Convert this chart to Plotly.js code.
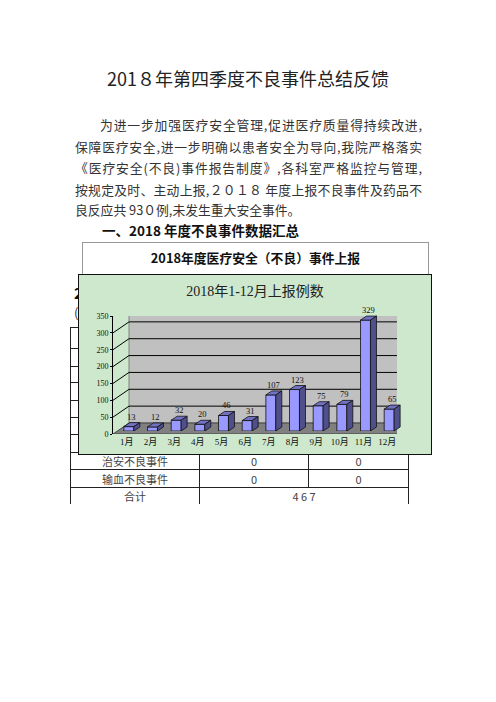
<!DOCTYPE html>
<html><head><meta charset="utf-8">
<script src="https://cdn.plot.ly/plotly-3.0.1.min.js"></script>
<style>
body{margin:0;width:496px;height:702px;background:#fff;position:relative;overflow:hidden;font-family:"Noto Sans CJK SC",sans-serif;color:#333;}
.ab{position:absolute;white-space:nowrap;}
.title{left:0;width:496px;top:66px;text-align:center;font-size:18px;line-height:24px;color:#222;}
.ln{left:75px;width:347px;font-size:12.8px;line-height:20px;text-align:justify;text-align-last:justify;}
.h1{left:102px;top:221px;font-size:13.5px;line-height:18px;font-weight:bold;color:#111;}
.box{left:82px;top:242px;width:345px;height:80px;border:1px solid #999;}
.boxt{left:82px;top:249px;width:347px;text-align:center;font-size:12.8px;line-height:18px;font-weight:bold;color:#111;}
.clip{overflow:hidden;width:4px;}
#tbl{position:absolute;left:70px;top:327px;border-collapse:collapse;table-layout:fixed;width:338px;font-size:11px;color:#444;}
#tbl td{border:1px solid #222;padding:0;text-align:center;line-height:12px;}
#tbl tr.last td{border-bottom:none;}
#chartbox{position:absolute;left:78px;top:274px;width:354px;height:181px;border:1px solid #111;box-sizing:border-box;z-index:5;background:#cde8cd;}
#chart{width:352px;height:179px;}
</style></head>
<body>
<div class="ab title">201８年第四季度不良事件总结反馈</div>
<div class="ab ln" style="top:115px;left:100px;width:322px;">为进一步加强医疗安全管理,促进医疗质量得持续改进,</div>
<div class="ab ln" style="top:137px;">保障医疗安全,进一步明确以患者安全为导向,我院严格落实</div>
<div class="ab ln" style="top:158px;">《医疗安全(不良)事件报告制度》,各科室严格监控与管理,</div>
<div class="ab ln" style="top:180px;">按规定及时、主动上报,２０１８ 年度上报不良事件及药品不</div>
<div class="ab ln" style="top:200px;text-align:left;text-align-last:left;">良反应共 93０例,未发生重大安全事件。</div>
<div class="ab h1">一、2018 年度不良事件数据汇总</div>
<div class="ab box"></div>
<div class="ab boxt">2018年度医疗安全（不良）事件上报</div>
<div class="ab clip" style="left:74px;top:283px;font-size:15px;line-height:20px;font-weight:bold;color:#111;">2</div>
<div class="ab clip" style="left:74px;top:304px;font-size:13px;line-height:18px;color:#333;">(</div>
<table id="tbl">
<col style="width:129px"><col style="width:109px"><col style="width:100px">
<tr style="height:21px"><td></td><td></td><td></td></tr>
<tr style="height:18px"><td></td><td></td><td></td></tr>
<tr style="height:16px"><td></td><td></td><td></td></tr>
<tr style="height:18px"><td></td><td></td><td></td></tr>
<tr style="height:17px"><td></td><td></td><td></td></tr>
<tr style="height:17px"><td></td><td></td><td></td></tr>
<tr style="height:18px"><td></td><td></td><td></td></tr>
<tr style="height:17px"><td>治安不良事件</td><td>0</td><td>0</td></tr>
<tr style="height:18px"><td>输血不良事件</td><td>0</td><td>0</td></tr>
<tr class="last" style="height:16px"><td>合计</td><td colspan="2">4 6 7</td></tr>
</table>
<div id="chartbox"><div id="chart"></div></div>
<script>
const months = ['1月','2月','3月','4月','5月','6月','7月','8月','9月','10月','11月','12月'];
const counts = [13, 12, 32, 20, 46, 31, 107, 123, 75, 79, 329, 65];
const yTicks = [0, 50, 100, 150, 200, 250, 300, 350];
const chartTitle = '2018年1-12月上报例数';

const W = 352, H = 179;
const FL = 34, FT = 41, PW = 284, PH = 118;   // front plane
const BX = 4, BY = 3;                          // bar plane shift
const DX = 16, DY = 11;                        // wall depth
const bdx = 6, bdy = 4;                        // bar depth
const bargap = 0.58;
const yMax = 350;
const pxPerUnit = PH / yMax;
const hw = PW / months.length * (1 - bargap) / 2;
const fontF = '"Liberation Serif","Noto Sans CJK SC",serif';

const shapes = [];
// back wall
shapes.push({type:'path', layer:'below', xref:'x', yref:'y', xsizemode:'pixel', ysizemode:'pixel',
  xanchor:-0.5, yanchor:0,
  path:`M${DX},${DY} L${DX+PW},${DY} L${DX+PW},${DY+PH} L${DX},${DY+PH} Z`,
  fillcolor:'#c0c0c0', line:{color:'#808080', width:1}});
// floor
shapes.push({type:'path', layer:'below', xref:'x', yref:'y', xsizemode:'pixel', ysizemode:'pixel',
  xanchor:-0.5, yanchor:0,
  path:`M0,0 L${PW},0 L${PW+DX},${DY} L${DX},${DY} Z`,
  fillcolor:'#808080', line:{color:'#333', width:0.8}});
yTicks.forEach(t => {
  if (t > 0 && t < yMax) {
    shapes.push({type:'line', layer:'below', xref:'x', yref:'y', xsizemode:'pixel', ysizemode:'pixel',
      xanchor:-0.5, yanchor:t, x0:DX, x1:DX+PW, y0:DY, y1:DY, line:{color:'#000', width:1}});
  }
  if (t > 0) {
    shapes.push({type:'line', layer:'below', xref:'x', yref:'y', xsizemode:'pixel', ysizemode:'pixel',
      xanchor:-0.5, yanchor:t, x0:0, x1:DX, y0:0, y1:DY, line:{color:'#000', width:1}});
  }
});
// bar 3D faces
counts.forEach((v, i) => {
  const h = v * pxPerUnit;
  shapes.push({type:'path', layer:'above', xref:'x2', yref:'y2', xsizemode:'pixel', ysizemode:'pixel',
    xanchor:i, yanchor:v,
    path:`M${-hw},0 L${hw},0 L${hw+bdx},${bdy} L${-hw+bdx},${bdy} Z`,
    fillcolor:'#7272c4', line:{color:'#111', width:0.8}});
  shapes.push({type:'path', layer:'above', xref:'x2', yref:'y2', xsizemode:'pixel', ysizemode:'pixel',
    xanchor:i, yanchor:0,
    path:`M${hw},0 L${hw+bdx},${bdy} L${hw+bdx},${h+bdy} L${hw},${h} Z`,
    fillcolor:'#4f4f8c', line:{color:'#111', width:0.8}});
});

const annotations = counts.map((v, i) => ({
  x: months[i], y: v, xref:'x2', yref:'y2', text: String(v), showarrow:false,
  xanchor:'center', yanchor:'bottom', xshift:3, yshift:3,
  font:{family:fontF, size:8.5, color:'#111'}
}));

const traces = [
  {type:'scatter', x: months, y: counts, xaxis:'x', yaxis:'y', mode:'markers',
   marker:{opacity:0}, hoverinfo:'skip', showlegend:false},
  {type:'bar', x: months, y: counts, xaxis:'x2', yaxis:'y2',
   marker:{color:'#9999ff', line:{color:'#111', width:0.8}}, hoverinfo:'skip', showlegend:false}
];

const layout = {
  width: W, height: H,
  margin:{l:0, r:0, t:0, b:0, pad:0},
  paper_bgcolor:'#cde8cd', plot_bgcolor:'rgba(0,0,0,0)',
  showlegend:false, bargap: bargap,
  title:{text: chartTitle, x:0.5, xanchor:'center', xref:'container', y:1 - 16/H, yanchor:'middle', yref:'container',
    font:{family:fontF, size:14, color:'#222'}},
  xaxis:{domain:[FL/W, (FL+PW)/W], anchor:'y', type:'category', categoryorder:'array', categoryarray: months,
    range:[-0.5, months.length - 0.5], showgrid:false, zeroline:false, showline:false, ticks:'',
    ticklabelshift:2, ticklabelstandoff:1,
    tickfont:{family:fontF, size:9, color:'#111'}, fixedrange:true},
  yaxis:{domain:[(H-FT-PH)/H, (H-FT)/H], anchor:'x', range:[0, yMax], tickmode:'array', tickvals: yTicks,
    ticks:'outside', ticklen:2, tickcolor:'#000', showline:true, linecolor:'#000', linewidth:1,
    showgrid:false, zeroline:false, tickfont:{family:fontF, size:8, color:'#111'}, fixedrange:true},
  xaxis2:{domain:[(FL+BX)/W, (FL+BX+PW)/W], anchor:'y2', type:'category', categoryorder:'array', categoryarray: months,
    range:[-0.5, months.length - 0.5], visible:false, fixedrange:true},
  yaxis2:{domain:[(H-FT-PH+BY)/H, (H-FT+BY)/H], anchor:'x2', range:[0, yMax], visible:false, fixedrange:true},
  shapes: shapes,
  annotations: annotations
};

Plotly.newPlot('chart', traces, layout, {staticPlot:true, displayModeBar:false});
</script>
</body></html>
